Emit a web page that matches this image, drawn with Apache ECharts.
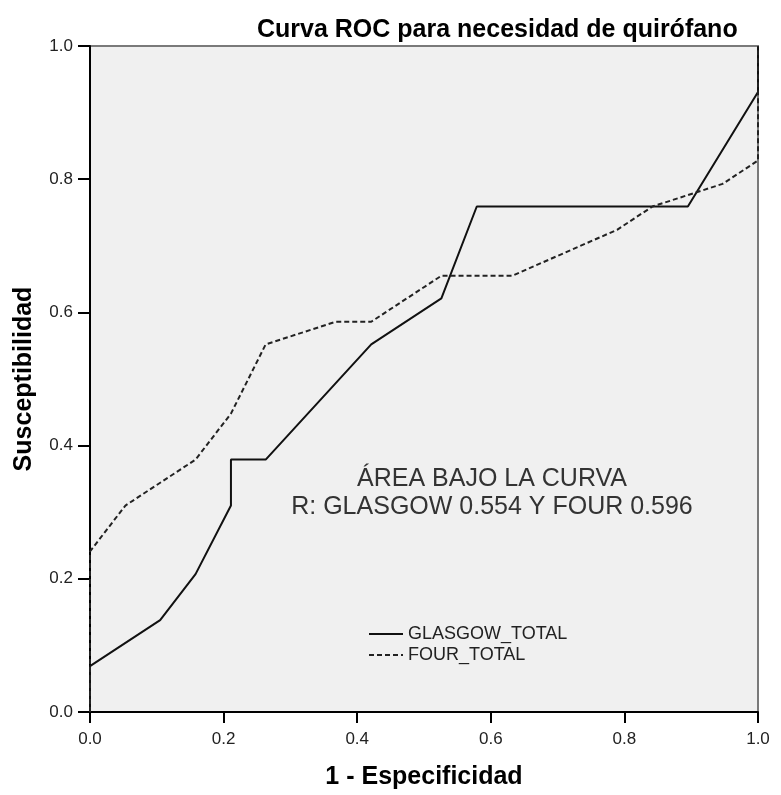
<!DOCTYPE html>
<html>
<head>
<meta charset="utf-8">
<script src="https://cdn.jsdelivr.net/npm/echarts@6/dist/echarts.min.js"></script>
<style>
  html, body { margin: 0; padding: 0; background: #fff; }
  #chart { width: 781px; height: 795px; }
</style>
</head>
<body>
<div id="chart"></div>
<script>
// ROC curve points: 1 - specificity (x) and sensitivity (y)
const glasgowX = [0, 0, 0.105, 0.158, 0.211, 0.211, 0.263, 0.421, 0.526, 0.579, 0.895, 1, 1];
const glasgowY = [0, 0.069, 0.138, 0.207, 0.310, 0.379, 0.379, 0.552, 0.621, 0.759, 0.759, 0.931, 1];

const fourX = [0, 0, 0.053, 0.158, 0.211, 0.263, 0.368, 0.421, 0.526, 0.632, 0.789, 0.842, 0.947, 1, 1];
const fourY = [0, 0.241, 0.310, 0.379, 0.448, 0.552, 0.586, 0.586, 0.655, 0.655, 0.724, 0.759, 0.793, 0.828, 1];

const seriesNames = ['GLASGOW_TOTAL', 'FOUR_TOTAL'];
const titleText = 'Curva ROC para necesidad de quirófano';
const xAxisName = '1 - Especificidad';
const yAxisName = 'Susceptibilidad';
const aucLines = ['ÁREA BAJO LA CURVA', 'R: GLASGOW 0.554 Y FOUR 0.596'];

const FONT = '"Liberation Sans", Arial, sans-serif';
const zip = (xs, ys) => xs.map((x, i) => [x, ys[i]]);

const chart = echarts.init(document.getElementById('chart'), null, { renderer: 'canvas' });

chart.setOption({
  backgroundColor: '#ffffff',
  animation: false,
  title: {
    text: titleText,
    left: 252,
    top: 13,
    textStyle: { fontFamily: FONT, fontSize: 25, fontWeight: 'bold', color: '#000' }
  },
  grid: {
    left: 90, right: 23, top: 46, bottom: 80,
    show: true,
    backgroundColor: '#f0f0f0',
    borderColor: '#7a7a7a',
    borderWidth: 2
  },
  legend: {
    orient: 'vertical',
    left: 363,
    top: 620,
    itemWidth: 34,
    itemHeight: 14,
    itemGap: 3,
    itemStyle: { opacity: 0 },
    textStyle: { fontFamily: FONT, fontSize: 18, color: '#222' },
    data: seriesNames
  },
  xAxis: {
    type: 'value',
    min: 0, max: 1, interval: 0.2,
    name: xAxisName,
    nameLocation: 'middle',
    nameGap: 53,
    nameTextStyle: { fontFamily: FONT, fontSize: 25, fontWeight: 'bold', color: '#000' },
    axisLine: { show: true, onZero: false, lineStyle: { color: '#000', width: 2 } },
    axisTick: { show: true, length: 11, lineStyle: { color: '#000', width: 2 } },
    axisLabel: {
      margin: 19,
      fontFamily: FONT, fontSize: 17, color: '#222',
      formatter: v => v.toFixed(1)
    },
    splitLine: { show: false }
  },
  yAxis: {
    type: 'value',
    min: 0, max: 1, interval: 0.2,
    name: yAxisName,
    nameLocation: 'middle',
    nameGap: 53,
    nameTextStyle: { fontFamily: FONT, fontSize: 25, fontWeight: 'bold', color: '#000' },
    axisLine: { show: true, onZero: false, lineStyle: { color: '#000', width: 2 } },
    axisTick: { show: true, length: 12, lineStyle: { color: '#000', width: 2 } },
    axisLabel: {
      margin: 17,
      fontFamily: FONT, fontSize: 17, color: '#222',
      formatter: v => v.toFixed(1)
    },
    splitLine: { show: false }
  },
  graphic: [
    {
      type: 'text',
      style: {
        text: aucLines[0],
        x: 492, y: 479,
        align: 'center', verticalAlign: 'middle',
        font: '25px ' + FONT, fill: '#333'
      }
    },
    {
      type: 'text',
      style: {
        text: aucLines[1],
        x: 492, y: 507,
        align: 'center', verticalAlign: 'middle',
        font: '25px ' + FONT, fill: '#333'
      }
    }
  ],
  series: [
    {
      name: seriesNames[0],
      type: 'line',
      data: zip(glasgowX, glasgowY),
      symbol: 'none',
      lineStyle: { color: '#111', width: 2, type: 'solid' },
      itemStyle: { color: '#111' },
      z: 3
    },
    {
      name: seriesNames[1],
      type: 'line',
      data: zip(fourX, fourY),
      symbol: 'none',
      lineStyle: { color: '#222', width: 2, type: [5, 3] },
      itemStyle: { color: '#222' },
      z: 3
    }
  ]
});
</script>
</body>
</html>
